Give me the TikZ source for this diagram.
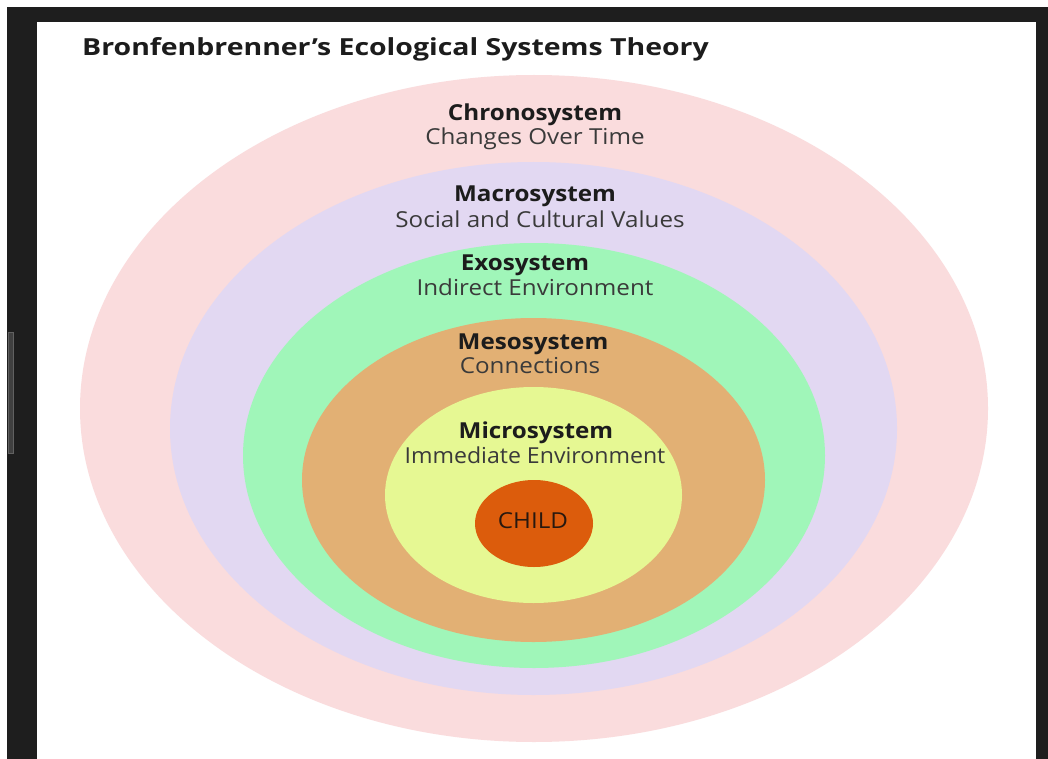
\documentclass[tikz,border=0pt]{standalone}
\usepackage{fontspec}
\usepackage{graphicx}
\setmainfont{Open Sans}
\definecolor{frame}{HTML}{1E1E1E}
\definecolor{chrono}{HTML}{FADCDD}
\definecolor{macro}{HTML}{E2D8F2}
\definecolor{exo}{HTML}{A0F6B9}
\definecolor{meso}{HTML}{E2B074}
\definecolor{micro}{HTML}{E6F893}
\definecolor{child}{HTML}{DC5C0C}
\definecolor{txtb}{HTML}{1C1C1C}
\definecolor{txtr}{HTML}{3A3A3A}
\newcommand{\wlab}[1]{\scalebox{1.1}[1]{#1}}
\newcommand{\wtit}[1]{\scalebox{1.21}[1]{#1}}
\tikzset{
  head/.style={anchor=base,inner sep=0pt,font=\fontsize{22}{26}\selectfont\bfseries,text=txtb},
  sub/.style={anchor=base,inner sep=0pt,font=\fontsize{22}{26}\selectfont,text=txtr},
}
\begin{document}
\begin{tikzpicture}[x=1pt,y=-1pt]
\useasboundingbox (0,0) rectangle (1048,759);
\fill[white] (0,0) rectangle (1048,759);
% window frame
\fill[frame] (7,7) rectangle (1048,22);
\fill[frame] (7,7) rectangle (37,759);
\fill[frame] (1036,7) rectangle (1048,759);
\fill[frame!85!white,draw=frame!70!white,line width=0.6pt] (8,332) rectangle (13,453);
% rings
\fill[chrono] (534,408.5) ellipse [x radius=454pt, y radius=333.5pt];
\fill[macro] (533.5,428.5) ellipse [x radius=363.5pt, y radius=266.5pt];
\fill[exo] (534,455.5) ellipse [x radius=291pt, y radius=212.5pt];
\fill[meso] (533.5,480) ellipse [x radius=231.5pt, y radius=162pt];
\fill[micro] (533.5,495) ellipse [x radius=148.5pt, y radius=108pt];
\fill[child] (534,523.5) ellipse [x radius=59pt, y radius=43.5pt];
% title
\node[anchor=base west,inner sep=0pt,font=\fontsize{23.5}{28}\selectfont\bfseries,text=txtb] (title) at (82,56) {\wtit{Bronfenbrenner’s Ecological Systems Theory}};
% labels
\node[head] (chronoH) at (535,121) {\wlab{Chronosystem}};
\node[sub] (chronoS) at (535,145) {\wlab{Changes Over Time}};
\node[head] (macroH) at (535,202) {\wlab{Macrosystem}};
\node[sub] (macroS) at (540,227) {\wlab{Social and Cultural Values}};
\node[head] (exoH) at (525,270) {\wlab{Exosystem}};
\node[sub] (exoS) at (535,295) {\wlab{Indirect Environment}};
\node[head] (mesoH) at (533,349) {\wlab{Mesosystem}};
\node[sub] (mesoS) at (530,373) {\wlab{Connections}};
\node[head] (microH) at (536,438) {\wlab{Microsystem}};
\node[sub] (microS) at (535,463) {\scalebox{1.05}[1]{Immediate Environment}};
\node[sub,text=txtb!80!child!60!black] (childL) at (533,528) {\wlab{CHILD}};
\end{tikzpicture}
\end{document}
